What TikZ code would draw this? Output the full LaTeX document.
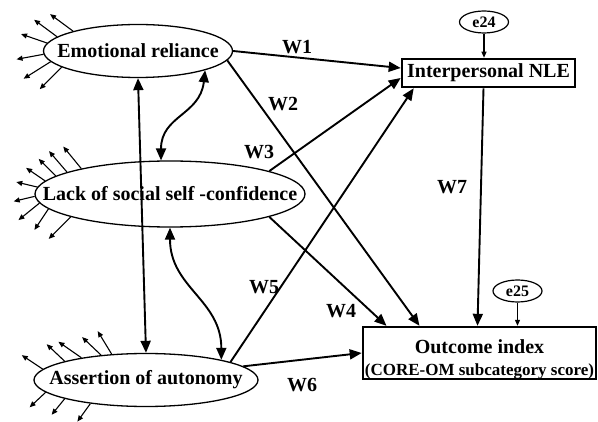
\documentclass[tikz,border=0pt]{standalone}
\usepackage{fontspec}
\setmainfont{Liberation Serif}
\usetikzlibrary{arrows.meta, positioning, calc, shapes.geometric}

\begin{document}
\begin{tikzpicture}[x=1pt, y=-1pt,
  latent/.style={draw, ellipse, line width=1.3pt, inner sep=0pt, font=\fontsize{20}{22}\selectfont\bfseries},
  obsbox/.style={draw, rectangle, line width=2.6pt, inner sep=0pt, font=\fontsize{20}{22}\selectfont\bfseries},
  errnode/.style={draw, ellipse, line width=1.2pt, inner sep=0pt, minimum width=49pt, minimum height=22pt, font=\fontsize{16}{18}\selectfont\bfseries},
  coef/.style={font=\fontsize{20}{22}\selectfont\bfseries},
  effect/.style={line width=1.9pt, -{Triangle[length=12pt,width=10pt]}},
  cov/.style={line width=1.9pt, {Triangle[length=12pt,width=10pt]}-{Triangle[length=12pt,width=10pt]}},
  ind/.style={line width=1.1pt, -{Triangle[length=6pt,width=5pt]}}]
  \useasboundingbox (0,0) rectangle (598,422);

  % latent factors
  \node[latent, minimum width=189pt, minimum height=53pt] (er) at (138,51) {\makebox[0pt]{Emotional reliance}};
  \node[latent, minimum width=270pt, minimum height=66pt] (ls) at (170,194) {\makebox[0pt]{Lack of social self -confidence}};
  \node[latent, minimum width=224pt, minimum height=53pt] (aa) at (146,380) {\makebox[0pt]{Assertion of autonomy}};

  % observed variables
  \node[obsbox, minimum width=173pt, minimum height=28pt] (nle) at (488.5,73) {Interpersonal NLE};
  \node[obsbox, minimum width=233pt, minimum height=48pt, align=center] (outc) at (479.5,353)
    {\rule{0pt}{26pt}Outcome index\\[0pt]{\fontsize{17}{19}\selectfont(CORE-OM subcategory score)}};
  \node[errnode] (e24) at (484,22) {e24};
  \node[errnode] (e25) at (517.5,291) {e25};

  % indicators
  \foreach \a/\dx/\dy in {163.5/-23/-17, 170/-23/-17, 175.5/-26/-9, 182/-27/5, 187.8/-27/17, 192/-22/22}
    \draw[ind] (er.\a) -- ++(\dx,\dy);
  \foreach \a/\dx/\dy in {164/-18/-22, 168/-18/-21, 171/-17/-17, 174.3/-19/-13, 177.5/-21/-5,
                          181.7/-21/5, 184/-21/17, 187.2/-14/21, 193/-22/22}
    \draw[ind] (ls.\a) -- ++(\dx,\dy);
  \foreach \a/\dx/\dy in {174.2/-21/-14, 167.9/-18/-17, 161.2/-23/-16, 151/-19/-18, 143.4/-14/-23,
                          187.1/-16/15, 193.7/-13/16, 203.3/-13/18}
    \draw[ind] (aa.\a) -- ++(\dx,\dy);

  % paths
  \draw[effect] (er.east) -- ([yshift=5pt]nle.west);
  \draw[effect] (er.-6) -- ([xshift=-60pt]outc.north);
  \draw[effect] (ls.13) -- ([yshift=-5pt]nle.west);
  \draw[effect] (ls.-13) -- ([xshift=-93pt]outc.north);
  \draw[effect] (aa.12) -- ([xshift=13pt]nle.south west);
  \draw[effect] (aa.8) -- (outc.west);
  \draw[effect] ([xshift=-5pt]nle.south) -- ([xshift=-2pt]outc.north);
  \draw[ind] (e24) -- (e24 |- nle.north);
  \draw[ind] (e25) -- (e25 |- outc.north);

  % covariances
  \draw[cov] (er.south) -- (aa.north);
  \draw[cov] (er.-16) .. controls +(-5,45) and +(0,-45) .. (ls.105);
  \draw[cov] (ls.south) .. controls +(0,60) and +(0,-60) .. (aa.15);

  \node[coef] (w1) at (297,47) {W1};
  \node[coef] (w2) at (283,104) {W2};
  \node[coef] (w3) at (259,152) {W3};
  \node[coef] (w4) at (341,311) {W4};
  \node[coef] (w5) at (264,287) {W5};
  \node[coef] (w6) at (302,385) {W6};
  \node[coef] (w7) at (452,187) {W7};
\end{tikzpicture}
\end{document}
